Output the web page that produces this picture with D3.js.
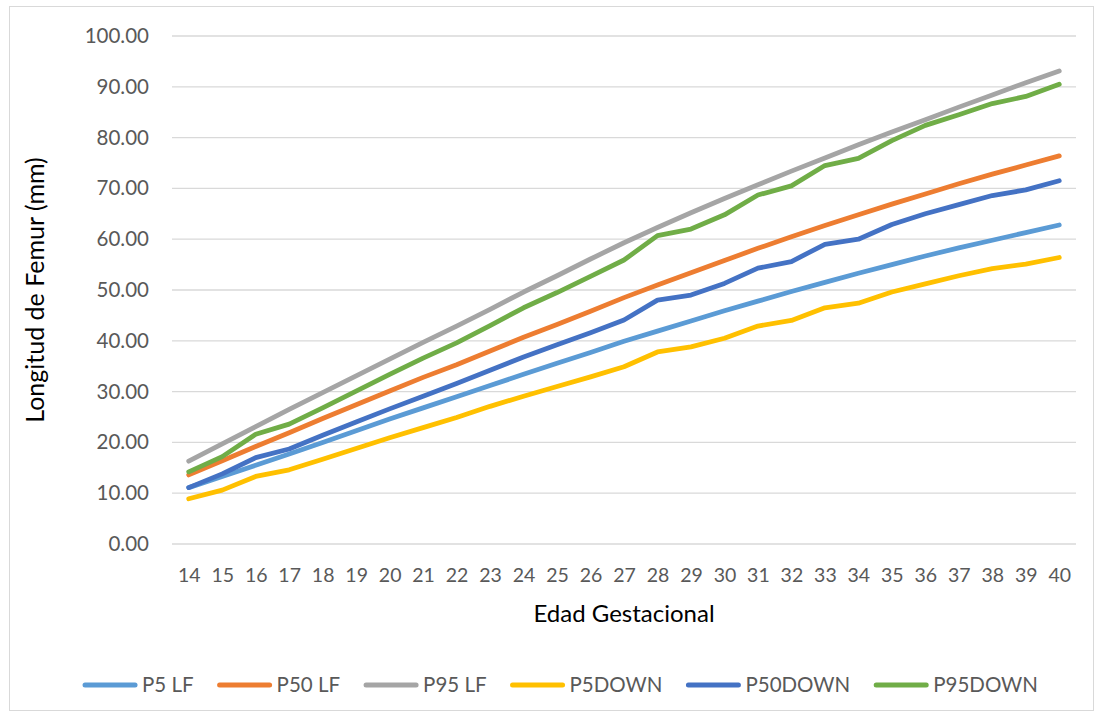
<!DOCTYPE html>
<html>
<head>
<meta charset="utf-8">
<script src="https://cdn.jsdelivr.net/npm/d3@7"></script>
<style>
  html, body { margin: 0; padding: 0; background: #fff; }
  svg { display: block; }
</style>
</head>
<body>
<svg id="chart" width="1097" height="715"></svg>
<script>
// Gestational age (weeks)
const weeks = [14,15,16,17,18,19,20,21,22,23,24,25,26,27,28,29,30,31,32,33,34,35,36,37,38,39,40];

// Femur length (mm) per series
const p5LF     = [11.1,13.3,15.5,17.7,20.0,22.3,24.6,26.8,29.0,31.2,33.4,35.6,37.7,39.9,41.9,43.9,45.9,47.8,49.7,51.5,53.3,55.0,56.7,58.3,59.8,61.3,62.8];
const p50LF    = [13.6,16.4,19.2,21.9,24.7,27.4,30.1,32.8,35.3,38.0,40.7,43.2,45.8,48.5,51.0,53.4,55.8,58.2,60.5,62.7,64.8,66.9,68.9,70.9,72.8,74.6,76.4];
const p95LF    = [16.3,19.7,23.1,26.5,29.8,33.1,36.4,39.7,42.9,46.2,49.6,52.8,56.1,59.3,62.3,65.2,68.0,70.7,73.4,76.0,78.6,81.1,83.5,86.0,88.4,90.8,93.1];
const p5Down   = [8.9,10.6,13.3,14.6,16.7,18.8,20.9,22.9,24.9,27.1,29.1,31.0,32.9,34.9,37.8,38.8,40.5,42.9,44.0,46.5,47.4,49.6,51.2,52.8,54.2,55.1,56.4];
const p50Down  = [11.1,13.8,17.0,18.7,21.4,24.0,26.6,29.1,31.6,34.2,36.8,39.2,41.6,44.1,48.0,49.0,51.3,54.3,55.6,59.0,60.0,62.9,65.0,66.8,68.6,69.7,71.5];
const p95Down  = [14.2,17.2,21.6,23.6,26.8,30.1,33.4,36.6,39.6,43.0,46.5,49.5,52.7,55.9,60.7,62.0,64.8,68.7,70.5,74.5,75.9,79.4,82.4,84.5,86.7,88.1,90.5];

const seriesNames  = ["P5 LF","P50 LF","P95 LF","P5DOWN","P50DOWN","P95DOWN"];
const seriesValues = [p5LF, p50LF, p95LF, p5Down, p50Down, p95Down];
const seriesColors = ["#5B9BD5","#ED7D31","#A5A5A5","#FFC000","#4472C4","#70AD47"];

const yTicks = [0,10,20,30,40,50,60,70,80,90,100];

const yTitle = "Longitud de Femur (mm)";
const xTitle = "Edad Gestacional";

const FONT = "Lato, 'Open Sans', sans-serif";
const svg = d3.select("#chart");

// chart area frame
svg.append("rect")
  .attr("x", 9.5).attr("y", 6.5)
  .attr("width", 1084).attr("height", 704)
  .attr("fill", "#fff").attr("stroke", "#d9d9d9").attr("stroke-width", 1);

const plot = { left: 172, right: 1076, top: 36, bottom: 544 };

const x = d3.scalePoint().domain(weeks).range([plot.left, plot.right]).padding(0.5);
const y = d3.scaleLinear().domain([0, 100]).range([plot.bottom, plot.top]);

// horizontal gridlines
svg.append("g")
  .selectAll("line")
  .data(yTicks)
  .join("line")
  .attr("x1", plot.left).attr("x2", plot.right)
  .attr("y1", d => y(d)).attr("y2", d => y(d))
  .attr("stroke", "#d9d9d9").attr("stroke-width", 1.3);

// y axis labels
const yAxis = svg.append("g")
  .attr("transform", `translate(${plot.left},0)`)
  .call(d3.axisLeft(y).tickValues(yTicks).tickFormat(d3.format(".2f")).tickSize(0).tickPadding(23));
yAxis.select(".domain").remove();
yAxis.selectAll("text")
  .attr("fill", "#595959").style("font-family", FONT).style("font-size", "20.5px");

// x axis labels
const xAxis = svg.append("g")
  .attr("transform", `translate(0,${plot.bottom})`)
  .call(d3.axisBottom(x).tickSize(0).tickPadding(24));
xAxis.select(".domain").remove();
xAxis.selectAll("text")
  .attr("fill", "#595959").style("font-family", FONT).style("font-size", "19.5px");

// axis titles
svg.append("text")
  .attr("transform", `translate(44,${(plot.top + plot.bottom) / 2}) rotate(-90)`)
  .attr("text-anchor", "middle")
  .attr("fill", "#000")
  .style("font-family", FONT).style("font-size", "25px")
  .text(yTitle);

svg.append("text")
  .attr("x", (plot.left + plot.right) / 2).attr("y", 622)
  .attr("text-anchor", "middle")
  .attr("fill", "#000")
  .style("font-family", FONT).style("font-size", "24px")
  .text(xTitle);

// series lines
const line = d3.line()
  .x((d, i) => x(weeks[i]))
  .y(d => y(d));

svg.append("g")
  .selectAll("path")
  .data(seriesValues)
  .join("path")
  .attr("d", d => line(d))
  .attr("fill", "none")
  .attr("stroke", (d, i) => seriesColors[i])
  .attr("stroke-width", 4.8)
  .attr("stroke-linejoin", "round")
  .attr("stroke-linecap", "round");

// legend
const legend = svg.append("g");
const swatch = 56, gapText = 4, gapItem = 23, legendY = 685;
let cursor = 0;
seriesNames.forEach((name, i) => {
  const item = legend.append("g").attr("transform", `translate(${cursor},0)`);
  item.append("line")
    .attr("x1", 3).attr("x2", swatch - 3)
    .attr("y1", legendY).attr("y2", legendY)
    .attr("stroke", seriesColors[i]).attr("stroke-width", 5)
    .attr("stroke-linecap", "round");
  const t = item.append("text")
    .attr("x", swatch + gapText).attr("y", legendY)
    .attr("dy", "0.35em")
    .attr("fill", "#595959")
    .style("font-family", FONT).style("font-size", "20.5px")
    .text(name);
  cursor += swatch + gapText + t.node().getComputedTextLength() + gapItem;
});
const legendWidth = cursor - gapItem;
legend.attr("transform", `translate(${560 - legendWidth / 2},0)`);
</script>
</body>
</html>
